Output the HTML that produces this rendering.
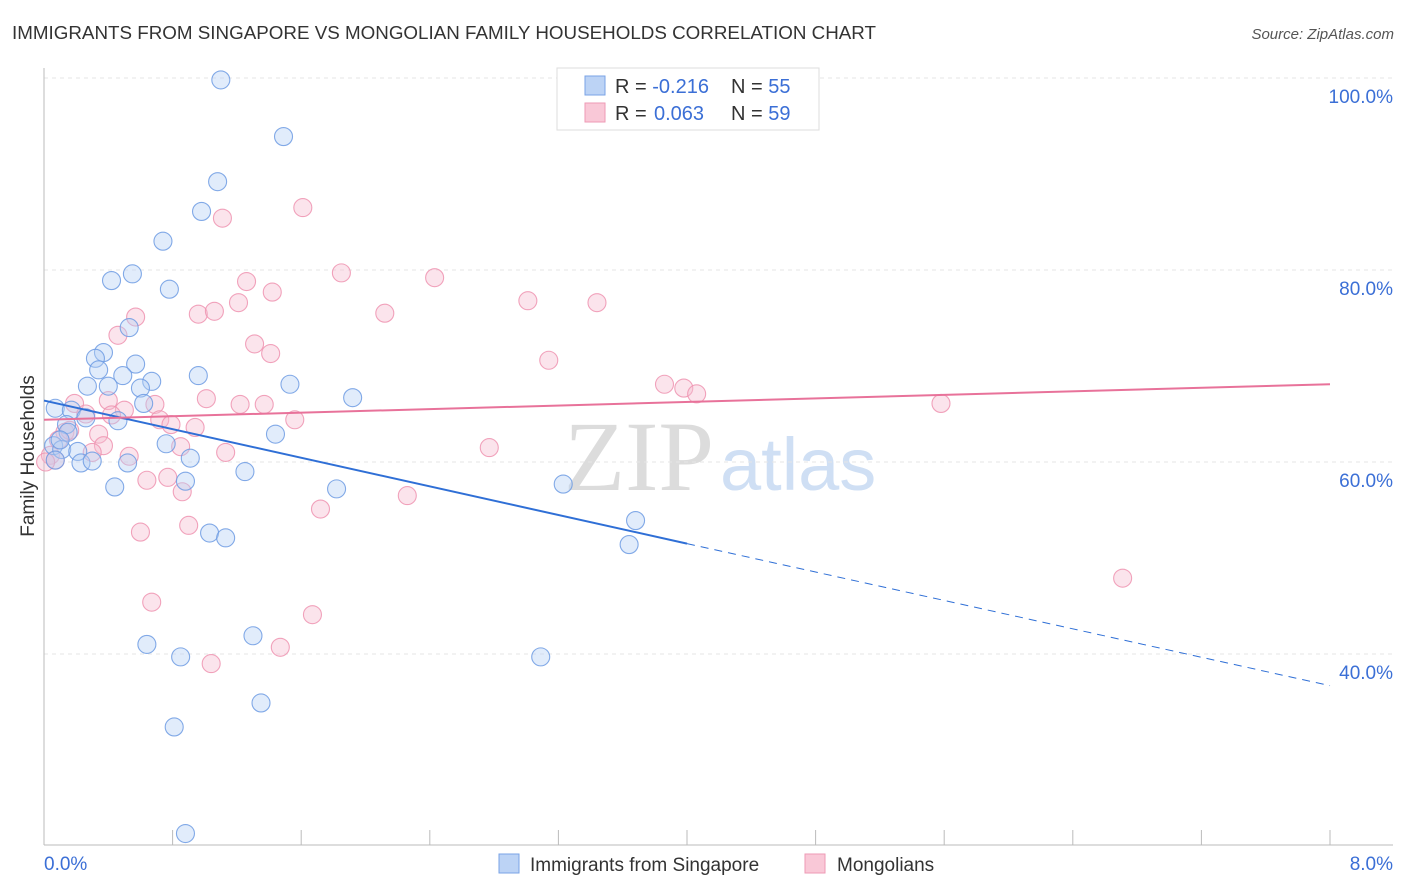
<!DOCTYPE html>
<html><head><meta charset="utf-8"><style>
body{margin:0;background:#fff;font-family:"Liberation Sans",sans-serif;}
svg{display:block}
</style></head><body>
<svg width="1406" height="892" xmlns="http://www.w3.org/2000/svg">
<text x="12" y="39" font-size="18" fill="#333" textLength="864" lengthAdjust="spacingAndGlyphs">IMMIGRANTS FROM SINGAPORE VS MONGOLIAN FAMILY HOUSEHOLDS CORRELATION CHART</text>
<text x="1394" y="39" font-size="15" fill="#555" font-style="italic" text-anchor="end">Source: ZipAtlas.com</text>
<g>
<text x="714" y="490" font-size="100" fill="#dcdcdc" font-family="Liberation Serif,serif" text-anchor="end">ZIP</text>
<text x="720" y="490" font-size="74" fill="#cfdff4">atlas</text>
</g>
<g id="grid"></g>
<g id="axes"></g>
<g id="dots"></g>
<g id="trends"></g>
<text transform="translate(34,456) rotate(-90)" font-size="19" fill="#333" text-anchor="middle">Family Households</text>
<text x="44" y="870" font-size="19" fill="#3b6fd6">0.0%</text>
<text x="1393" y="870" font-size="19" fill="#3b6fd6" text-anchor="end">8.0%</text>
<g>
<rect x="557" y="68" width="262" height="62" fill="#fff" stroke="#ddd"/>
<rect x="585" y="76" width="20" height="19" fill="#bcd3f5" stroke="#7aa3e6"/>
<rect x="585" y="103" width="20" height="19" fill="#f9c8d7" stroke="#ee9ab4"/>
<text x="615" y="93" font-size="20" fill="#333">R = <tspan fill="#3b6fd6">-0.216</tspan><tspan x="731">N = </tspan><tspan fill="#3b6fd6">55</tspan></text>
<text x="615" y="120" font-size="20" fill="#333">R = <tspan fill="#3b6fd6" x="654">0.063</tspan><tspan x="731">N = </tspan><tspan fill="#3b6fd6">59</tspan></text>
</g>
<g>
<rect x="499" y="854" width="20" height="19" fill="#bcd3f5" stroke="#7aa3e6"/>
<text x="530" y="871" font-size="19" fill="#333">Immigrants from Singapore</text>
<rect x="805" y="854" width="20" height="19" fill="#f9c8d7" stroke="#ee9ab4"/>
<text x="837" y="871" font-size="19" fill="#333">Mongolians</text>
</g>
</svg>
<script>
const yTicks=[40,60,80,100];
const yTickLabels=["40.0%","60.0%","80.0%","100.0%"];
const xTicks=[0,0.8,1.6,2.4,3.2,4.0,4.8,5.6,6.4,7.2,8.0];
const blueX=[1.10,1.49,1.08,0.98,0.74,0.55,0.42,0.78,0.53,0.37,0.32,0.57,0.34,0.49,0.67,0.27,0.40,0.96,1.53,0.60,0.62,1.92,0.07,0.17,0.26,0.46,0.14,0.15,1.44,0.76,0.06,0.11,0.21,0.91,0.23,0.30,0.52,1.25,0.88,0.44,1.82,3.23,3.68,1.03,1.13,3.64,1.30,0.64,0.85,3.09,1.35,0.81,0.88,0.07,0.10];
const blueY=[99.8,93.9,89.2,86.1,83.0,79.6,78.9,78.0,74.0,71.4,70.8,70.2,69.6,69.0,68.4,67.9,67.9,69.0,68.1,67.7,66.1,66.7,65.6,65.4,64.6,64.3,63.9,63.1,62.9,61.9,61.7,61.3,61.1,60.4,59.9,60.1,59.9,59.0,58.0,57.4,57.2,57.7,53.9,52.6,52.1,51.4,41.9,41.0,39.7,39.7,34.9,32.4,21.3,60.2,62.3];
const pinkX=[1.61,1.11,1.85,2.43,1.26,1.42,1.21,3.01,3.44,0.96,1.06,2.12,0.57,0.46,1.31,1.41,3.14,3.86,3.98,4.06,5.58,1.01,1.22,1.37,0.40,0.19,0.69,0.50,0.26,0.72,0.79,0.94,1.56,0.34,0.13,0.85,1.13,0.37,0.30,2.77,0.53,0.64,0.77,0.86,2.26,1.72,0.90,0.60,6.71,0.67,1.67,1.47,1.04,0.04,0.07,0.09,0.16,0.42,0.01];
const pinkY=[86.5,85.4,79.7,79.2,78.8,77.7,76.6,76.8,76.6,75.4,75.7,75.5,75.1,73.2,72.3,71.3,70.6,68.1,67.7,67.1,66.1,66.6,66.0,66.0,66.4,66.1,66.0,65.4,65.0,64.4,63.9,63.6,64.4,62.9,63.1,61.6,61.0,61.7,61.0,61.5,60.6,58.1,58.4,56.9,56.5,55.1,53.4,52.7,47.9,45.4,44.1,40.7,39.0,60.7,60.2,62.3,63.3,64.9,60.0];
const blueTrendX=[0,4.0,8.0];
const blueTrendY=[66.4,51.5,36.7];
const pinkTrendX=[0,8.0];
const pinkTrendY=[64.4,68.1];
const NS="http://www.w3.org/2000/svg";
const xs=v=>44+v/8*1286;
const ys=v=>78+(100-v)*9.6;
function mk(tag,attrs,parent){const e=document.createElementNS(NS,tag);for(const k in attrs)e.setAttribute(k,attrs[k]);document.getElementById(parent).appendChild(e);return e;}
yTicks.forEach((t,i)=>{
 const l=mk('line',{x1:44,x2:1393,y1:ys(t),y2:ys(t),stroke:'#e6e6e6','stroke-dasharray':'4,4'},'grid');
 
 
 const tx=mk('text',{x:1393,y:ys(t)+25,'font-size':19,fill:'#3b6fd6','text-anchor':'end'},'grid');
 tx.textContent=yTickLabels[i];
 
 
});
const ya=mk('line',{x1:44,x2:44,y1:68,y2:845,stroke:'#bbb'},'axes');


const xa=mk('line',{x1:44,x2:1393,y1:845,y2:845,stroke:'#bbb'},'axes');


xTicks.forEach(t=>{
 const l=mk('line',{x1:xs(t),x2:xs(t),y1:830,y2:845,stroke:'#bbb'},'axes');
 
 
});
function dots(X,Y,fill,stroke,name){
 X.forEach((x,i)=>{
  const c=mk('circle',{cx:xs(x),cy:ys(Y[i]),r:9,fill:fill,'fill-opacity':0.4,stroke:stroke,'stroke-opacity':0.85,'stroke-width':1.1},'dots');
  
  
 });
}
dots(pinkX,pinkY,'#f6bccf','#ee93b0','mongolians-point');
dots(blueX,blueY,'#b3cff4','#6d9be3','singapore-point');
const bt1=mk('line',{x1:xs(blueTrendX[0]),y1:ys(blueTrendY[0]),x2:xs(blueTrendX[1]),y2:ys(blueTrendY[1]),stroke:'#2f6fd6','stroke-width':2},'trends');


const bt2=mk('line',{x1:xs(blueTrendX[1]),y1:ys(blueTrendY[1]),x2:xs(blueTrendX[2]),y2:ys(blueTrendY[2]),stroke:'#2f6fd6','stroke-width':1,'stroke-dasharray':'8,6'},'trends');


const pt=mk('line',{x1:xs(pinkTrendX[0]),y1:ys(pinkTrendY[0]),x2:xs(pinkTrendX[1]),y2:ys(pinkTrendY[1]),stroke:'#e8729a','stroke-width':2},'trends');


</script>
</body></html>
